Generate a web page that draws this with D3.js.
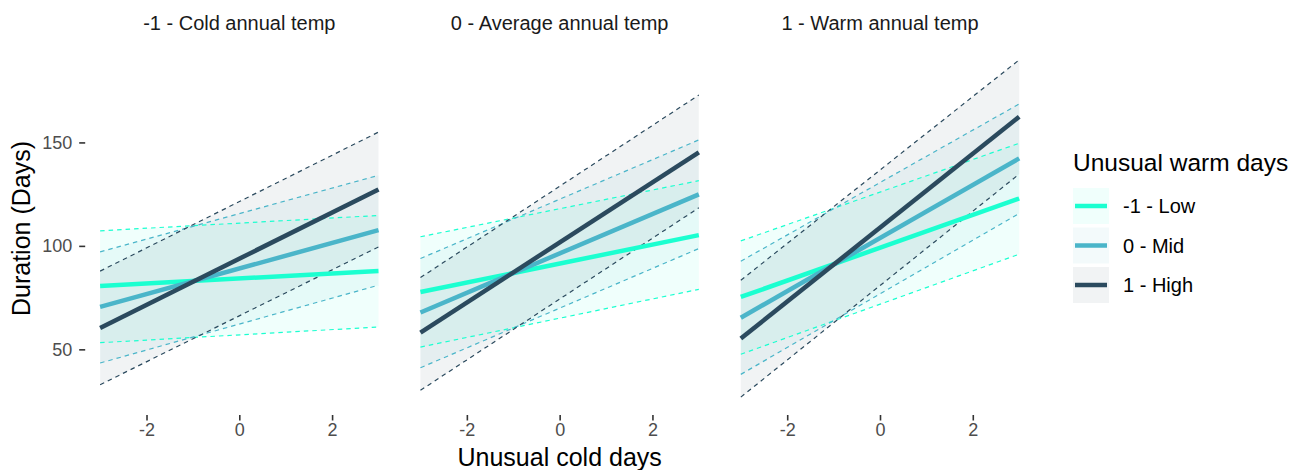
<!DOCTYPE html>
<html>
<head>
<meta charset="utf-8">
<script src="https://cdn.jsdelivr.net/npm/d3@7"></script>
<style>
	body { margin: 0; background: #fff; }
	text { font-family: "Liberation Sans", Arial, sans-serif; }
</style>
</head>
<body>
<svg id="chart"></svg>
<script>
// x positions where the predictions were taken
const xPoints = [-3, 3];
const xTicks = [-2, 0, 2];
const yTicks = [50, 100, 150];

const panelTitles = ["-1 - Cold annual temp", "0 - Average annual temp", "1 - Warm annual temp"];
const groupLabels = ["-1 - Low", "0 - Mid", "1 - High"];
const groupColors = ["#1bffd0", "#4ab5c9", "#2b4a5e"];

// one pair [at x=-3, at x=3] per panel
const fitLow = [[80.6, 87.9], [77.7, 105.2], [75.3, 122.9]];
const fitMid = [[70.5, 107.6], [67.8, 124.9], [65.3, 142.3]];
const fitHigh = [[60.3, 127.3], [58.1, 145.2], [55.2, 162.4]];

const lowerLow = [[53.2, 60.8], [51.1, 79.0], [47.6, 96.0]];
const upperLow = [[107.3, 114.7], [104.4, 131.5], [102.4, 149.6]];
const lowerMid = [[43.4, 81.0], [41.1, 98.7], [37.9, 115.7]];
const upperMid = [[97.1, 134.1], [93.9, 151.2], [92.6, 168.6]];
const lowerHigh = [[32.9, 99.5], [30.2, 118.4], [26.9, 134.7]];
const upperHigh = [[87.8, 155.0], [84.7, 172.9], [83.4, 189.9]];

const chart = (function() {
	const width = 1293;
	const height = 470;
	const panelLeft = 86.2;
	const panelWidth = 306.2;
	const panelStep = 320.35;
	const panelTop = 43;
	const panelBottom = 414;

	const svg = d3.select("#chart")
		.attr("width", width)
		.attr("height", height);

	const fits = [fitLow, fitMid, fitHigh];
	const lowers = [lowerLow, lowerMid, lowerHigh];
	const uppers = [upperLow, upperMid, upperHigh];

	// ggplot style 5% expansion on both scales
	const allValues = d3.merge([].concat(lowers, uppers).map(function(a) { return d3.merge(a) }));
	const yExtent = d3.extent(allValues);
	const yPad = (yExtent[1] - yExtent[0]) * 0.05;
	const xPad = (xPoints[1] - xPoints[0]) * 0.05;

	const y = d3.scaleLinear()
		.domain([yExtent[0] - yPad, yExtent[1] + yPad])
		.range([panelBottom, panelTop]);

	function series(values) {
		return xPoints.map(function(xv, i) { return {x: xv, y: values[i]} });
	}

	function drawPanel(p) {
		const x = d3.scaleLinear()
			.domain([xPoints[0] - xPad, xPoints[1] + xPad])
			.range([panelLeft + p * panelStep, panelLeft + p * panelStep + panelWidth]);

		const g = svg.append("g");

		const area = d3.area()
			.x(function(d) { return x(d.x) })
			.y0(function(d) { return y(d.lo) })
			.y1(function(d) { return y(d.hi) });
		const line = d3.line()
			.x(function(d) { return x(d.x) })
			.y(function(d) { return y(d.y) });

		// ribbons
		for (let k = 0; k < 3; k++) {
			const band = xPoints.map(function(xv, i) {
				return {x: xv, lo: lowers[k][p][i], hi: uppers[k][p][i]}
			});
			g.append("path")
				.attr("d", area(band))
				.attr("fill", groupColors[k])
				.attr("fill-opacity", 0.065);
		}

		// confidence bounds
		for (let k = 0; k < 3; k++) {
			[lowers[k][p], uppers[k][p]].forEach(function(vals) {
				g.append("path")
					.attr("d", line(series(vals)))
					.attr("fill", "none")
					.attr("stroke", groupColors[k])
					.attr("stroke-width", 1.2)
					.attr("stroke-dasharray", "4.5,4");
			});
		}

		// fitted lines
		for (let k = 0; k < 3; k++) {
			g.append("path")
				.attr("d", line(series(fits[k][p])))
				.attr("fill", "none")
				.attr("stroke", groupColors[k])
				.attr("stroke-width", 4.5);
		}

		// x axis
		const xAxis = svg.append("g")
			.attr("transform", "translate(0," + (panelBottom + 1) + ")")
			.call(d3.axisBottom(x).tickValues(xTicks).tickSize(5.5).tickPadding(3).tickFormat(d3.format("d")));
		xAxis.select(".domain").remove();
		xAxis.selectAll("line").attr("stroke", "#333").attr("stroke-width", 1.6);
		xAxis.selectAll("text")
			.attr("fill", "#4d4d4d")
			.style("font-size", "18px")
			.text(function(d) { return d < 0 ? "-" + Math.abs(d) : d });

		// strip title
		svg.append("text")
			.attr("x", (x.range()[0] + x.range()[1]) / 2)
			.attr("y", 30)
			.attr("text-anchor", "middle")
			.attr("fill", "#1a1a1a")
			.style("font-size", "20px")
			.text(panelTitles[p]);

		return x;
	}

	const xScales = d3.range(3).map(drawPanel);

	// y axis on first panel only
	const yAxis = svg.append("g")
		.attr("transform", "translate(" + (panelLeft - 1) + ",0)")
		.call(d3.axisLeft(y).tickValues(yTicks).tickSize(6).tickPadding(7));
	yAxis.select(".domain").remove();
	yAxis.selectAll("line").attr("stroke", "#333").attr("stroke-width", 1.6);
	yAxis.selectAll("text").attr("fill", "#4d4d4d").style("font-size", "18px");

	// axis titles
	svg.append("text")
		.attr("x", (xScales[1].range()[0] + xScales[1].range()[1]) / 2)
		.attr("y", 466)
		.attr("text-anchor", "middle")
		.attr("fill", "#000")
		.style("font-size", "25px")
		.text("Unusual cold days");

	svg.append("text")
		.attr("transform", "translate(30," + ((panelTop + panelBottom) / 2) + ") rotate(-90)")
		.attr("text-anchor", "middle")
		.attr("fill", "#000")
		.style("font-size", "25px")
		.text("Duration (Days)");

	// legend
	const legend = svg.append("g").attr("transform", "translate(1073,0)");
	legend.append("text")
		.attr("x", 0)
		.attr("y", 170.5)
		.attr("fill", "#000")
		.style("font-size", "24.5px")
		.text("Unusual warm days");

	groupLabels.forEach(function(label, k) {
		const top = 188 + k * 39.5;
		legend.append("rect")
			.attr("x", 0)
			.attr("y", top)
			.attr("width", 36)
			.attr("height", 36)
			.attr("fill", groupColors[k])
			.attr("fill-opacity", 0.065);
		legend.append("line")
			.attr("x1", 2)
			.attr("x2", 34)
			.attr("y1", top + 18)
			.attr("y2", top + 18)
			.attr("stroke", groupColors[k])
			.attr("stroke-width", 4.5);
		legend.append("text")
			.attr("x", 50)
			.attr("y", top + 18)
			.attr("dy", "0.36em")
			.attr("fill", "#000")
			.style("font-size", "20px")
			.text(label);
	});

	return { svg: svg };
})();
</script>
</body>
</html>
